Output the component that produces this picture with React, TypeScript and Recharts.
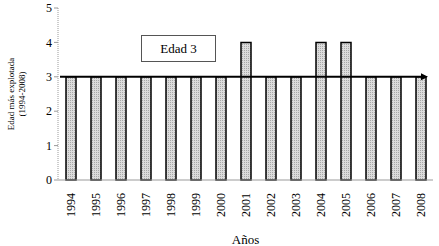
import { BarChart, Bar, XAxis, YAxis, ReferenceLine } from "recharts";

const years = [
  "1994", "1995", "1996", "1997", "1998", "1999", "2000", "2001",
  "2002", "2003", "2004", "2005", "2006", "2007", "2008",
];
const edad = [3, 3, 3, 3, 3, 3, 3, 4, 3, 3, 4, 4, 3, 3, 3];
const yTicks = [0, 1, 2, 3, 4, 5];
const trendValue = 3;

const data = years.map((year, i) => ({ year, edad: edad[i] }));

const FONT = "Liberation Serif, DejaVu Serif, serif";

function YearTick(props: any) {
  const { x, y, payload } = props;
  return (
    <text
      x={0}
      y={0}
      transform={`translate(${x + 4},${y + 5}) rotate(-90)`}
      textAnchor="end"
      style={{ fontFamily: FONT }}
      fontSize={12}
      fill="#000"
    >
      {payload.value}
    </text>
  );
}

function ArrowLine(props: any) {
  const { x1, y1, x2 } = props;
  const end = x2 - 5;
  return (
    <g>
      <line x1={x1 + 2} y1={y1} x2={end - 6} y2={y1} stroke="#000" strokeWidth={2} />
      <polygon points={`${end - 7},${y1 - 3.5} ${end},${y1} ${end - 7},${y1 + 3.5}`} fill="#000" />
    </g>
  );
}

export default function App() {
  return (
    <div style={{ position: "absolute", left: 0, top: 0, width: 439, height: 246, background: "#fff", fontFamily: FONT }}>
      <BarChart
        width={439}
        height={246}
        data={data}
        margin={{ top: 8, right: 6, left: 0, bottom: 0 }}
        style={{ fontFamily: FONT }}
      >
        <defs>
          <pattern id="dots" width="2" height="2" patternUnits="userSpaceOnUse">
            <rect width="2" height="2" fill="#dcdcdc" />
            <rect width="1" height="1" fill="#a8a8a8" />
          </pattern>
        </defs>
        <XAxis
          dataKey="year"
          height={66}
          interval={0}
          tick={<YearTick />}
          axisLine={{ stroke: "#9a9a9a" }}
          tickLine={false}
          label={{ value: "Años", position: "insideBottom", offset: 2, fontSize: 13, fill: "#000", style: { fontFamily: FONT } }}
        />
        <YAxis
          width={58}
          domain={[0, 5]}
          ticks={yTicks}
          interval={0}
          axisLine={{ stroke: "#9a9a9a", strokeDasharray: "1 1" }}
          tickLine={{ stroke: "#9a9a9a" }}
          tickSize={4}
          tick={{ fontSize: 12, fill: "#000", style: { fontFamily: FONT } }}
          label={
            <g style={{ fontFamily: FONT }}>
              <text x={0} y={0} transform="translate(14,94) rotate(-90)" textAnchor="middle" fontSize={9} fill="#000">
                Edad más explotada
              </text>
              <text x={0} y={0} transform="translate(25,94) rotate(-90)" textAnchor="middle" fontSize={9} fill="#000">
                (1994-2008)
              </text>
            </g>
          }
        />
        <Bar
          dataKey="edad"
          barSize={10}
          fill="url(#dots)"
          stroke="#000"
          strokeWidth={1.5}
          isAnimationActive={false}
        />
        <ReferenceLine y={trendValue} shape={<ArrowLine />} />
      </BarChart>
      <div
        style={{
          position: "absolute",
          left: 141,
          top: 35,
          width: 75,
          height: 27,
          boxSizing: "border-box",
          border: "1px solid #555",
          background: "#fff",
          fontFamily: FONT,
          fontSize: 13,
          lineHeight: "25px",
          textAlign: "center",
          color: "#000",
        }}
      >
        Edad 3
      </div>
    </div>
  );
}
